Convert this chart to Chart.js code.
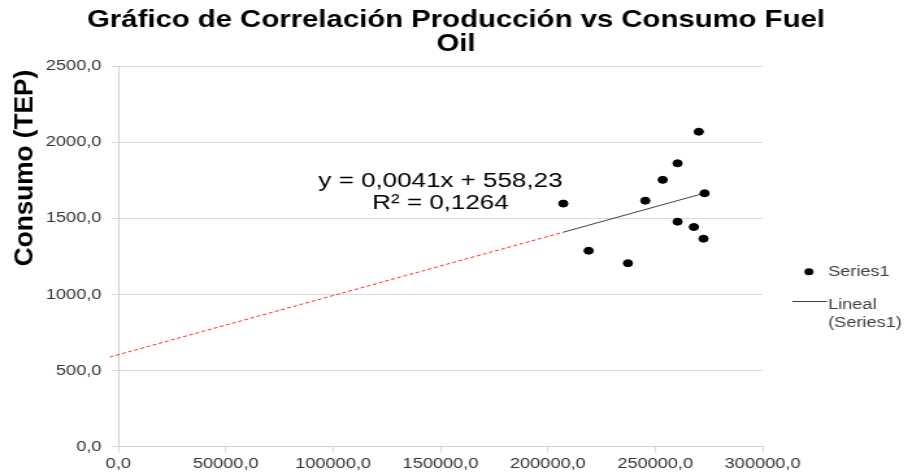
<!DOCTYPE html>
<html>
<head>
<meta charset="utf-8">
<script src="https://cdn.jsdelivr.net/npm/chart.js@4.4.0/dist/chart.umd.min.js"></script>
<style>
    html, body { margin: 0; padding: 0; background: #fff; overflow: hidden; }
    /* el gráfico original está estirado en horizontal */
    #wrap { width: 702px; height: 476px; transform: scaleX(1.2991); transform-origin: 0 0; }
</style>
</head>
<body>
<div id="wrap"><canvas id="chart" width="702" height="476"></canvas></div>
<script>
    const produccion = [270300, 260400, 253500, 273000, 207200, 245400, 260400, 268000, 272500, 219000, 237300];
    const consumo = [2072, 1864, 1755, 1667, 1599, 1618, 1480, 1445, 1368, 1289, 1207];

    const trendBackX = [-4000, 207500];
    const trendBackY = [590, 1412];
    const trendX = [207500, 273000];
    const trendY = [1412, 1668];

    const titleLines = ["Gráfico de Correlación Producción vs Consumo Fuel", "Oil"];
    const yTitle = "Consumo (TEP)";
    const equationLines = ["y = 0,0041x + 558,23", "R² = 0,1264"];
    const equationX = 150000;
    const equationY = [1745, 1600];
    const legendLabels = ["Series1", "Lineal", "(Series1)"];

    const font = "'Liberation Sans', Arial, sans-serif";

    function toPoints(xs, ys)
    {
        return xs.map((x, i) => ({x: x, y: ys[i]}));
    }

    function formatTick(value)
    {
        return Number(value).toFixed(1).replace('.', ',');
    }

    /** textos extra: título, título del eje, ecuación y leyenda **/
    const extrasPlugin = {
        id: 'extras',
        afterDraw(chart) {
            const ctx = chart.ctx;
            const xs = chart.scales.x;
            const ys = chart.scales.y;
            ctx.save();
            ctx.textAlign = 'center';
            ctx.textBaseline = 'middle';

            // título
            ctx.fillStyle = '#000';
            ctx.font = `bold 24px ${font}`;
            const sx = 568 / ctx.measureText(titleLines[0]).width;
            [20.5, 44].forEach((y, i) => {
                ctx.setTransform(sx, 0, 0, 1, 351, y);
                ctx.fillText(titleLines[i], 0, 0);
            });
            ctx.setTransform(1, 0, 0, 1, 0, 0);

            // título eje Y
            ctx.font = `bold 20px ${font}`;
            ctx.translate(19, 168);
            ctx.rotate(-Math.PI / 2);
            ctx.scale(1.31, 1);
            ctx.fillText(yTitle, 0, 0);
            ctx.setTransform(1, 0, 0, 1, 0, 0);

            // ecuación
            ctx.font = `20px ${font}`;
            equationLines.forEach((t, i) => {
                ctx.fillText(t, xs.getPixelForValue(equationX), ys.getPixelForValue(equationY[i]));
            });

            // leyenda
            ctx.beginPath();
            ctx.arc(622.7, 271.7, 3.5, 0, Math.PI * 2);
            ctx.fill();
            ctx.strokeStyle = '#404040';
            ctx.lineWidth = 1;
            ctx.beginPath();
            ctx.moveTo(610, 301.5);
            ctx.lineTo(636.6, 301.5);
            ctx.stroke();
            ctx.fillStyle = '#404040';
            ctx.font = `14px ${font}`;
            ctx.textAlign = 'left';
            ctx.fillText(legendLabels[0], 637.4, 272);
            ctx.fillText(legendLabels[1], 637.4, 305);
            ctx.fillText(legendLabels[2], 637.4, 323);
            ctx.restore();
        }
    };

    function initChart()
    {
        return new Chart(document.getElementById('chart'), {
            type: 'scatter',
            data: {
                datasets: [
                    {
                        label: 'Series1',
                        data: toPoints(produccion, consumo),
                        backgroundColor: '#000',
                        borderColor: '#000',
                        pointRadius: 3.5,
                        pointHoverRadius: 3.5,
                    },
                    {
                        label: 'Lineal back',
                        data: toPoints(trendBackX, trendBackY),
                        showLine: true,
                        borderColor: 'rgba(255,0,0,0.85)',
                        borderWidth: 1,
                        borderDash: [3, 2],
                        pointRadius: 0,
                        clip: false,
                    },
                    {
                        label: 'Lineal (Series1)',
                        data: toPoints(trendX, trendY),
                        showLine: true,
                        borderColor: '#404040',
                        borderWidth: 1,
                        pointRadius: 0,
                    },
                ]
            },
            options: {
                responsive: false,
                animation: false,
                devicePixelRatio: 1,
                layout: { padding: { left: 0, right: 115, top: 66.6, bottom: 0 } },
                plugins: {
                    legend: { display: false },
                    tooltip: { enabled: false },
                    title: { display: false },
                },
                scales: {
                    x: {
                        type: 'linear',
                        min: 0,
                        max: 300000,
                        ticks: {
                            stepSize: 50000,
                            color: '#333',
                            font: { family: font, size: 14 },
                            padding: 3,
                            maxRotation: 0,
                            callback: formatTick,
                        },
                        grid: { drawOnChartArea: false, drawTicks: true, tickLength: 6, color: '#d9d9d9' },
                        border: { color: '#d0d0d0' },
                        afterFit: (scale) => { scale.height = 29.3; },
                    },
                    y: {
                        min: 0,
                        max: 2500,
                        ticks: {
                            stepSize: 500,
                            color: '#333',
                            font: { family: font, size: 14 },
                            padding: 8,
                            callback: formatTick,
                        },
                        grid: { color: '#d9d9d9', tickLength: 5 },
                        border: { color: '#d0d0d0' },
                        afterFit: (scale) => { scale.width = 91.1; },
                    },
                },
            },
            plugins: [extrasPlugin],
        });
    }

    initChart();
</script>
</body>
</html>
